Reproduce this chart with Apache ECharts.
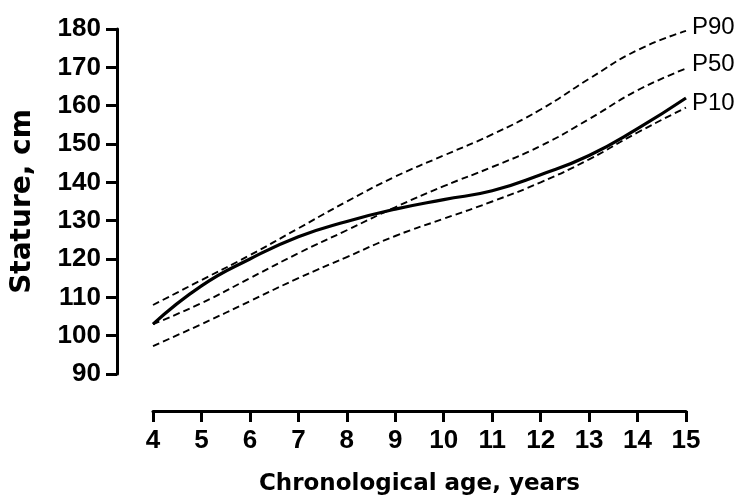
<!DOCTYPE html>
<html>
<head>
<meta charset="utf-8">
<script src="https://cdn.jsdelivr.net/npm/echarts@6/dist/echarts.min.js"></script>
<style>
  html, body { margin: 0; padding: 0; background: #fff; }
  #chart { width: 742px; height: 501px; }
</style>
</head>
<body>
<div id="chart"></div>
<script>
// ========== 数据 ==========
const ages = [4, 5, 6, 7, 8, 9, 10, 11, 12, 13, 14, 15];
const p90 = [108, 114.5, 121, 128, 135, 141.5, 147, 152.5, 159, 167, 174.5, 179.5];
const p50 = [103, 108.5, 115, 121.5, 127.5, 133.5, 139, 144, 149.5, 156.5, 164, 169.7];
const p10 = [97.3, 103, 109, 115, 120.5, 126, 130.5, 135, 140, 146, 153, 159.5];
const stature = [103, 113, 120, 125.8, 129.8, 133, 135.5, 137.8, 142, 147, 154, 162];

const FONT = "'Liberation Sans', Arial, sans-serif";
const TITLE_FONT = "'DejaVu Sans', 'Liberation Sans', sans-serif";

function pairs(values) {
    return ages.map((a, i) => [a, values[i]]);
}

function percentileSeries(name, values) {
    return {
        name: name,
        type: 'line',
        data: pairs(values),
        smooth: true,
        symbol: 'none',
        lineStyle: { color: '#000', width: 1.9, type: [7, 4] },
        endLabel: {
            show: true,
            formatter: '{a}',
            color: '#000',
            fontFamily: FONT,
            fontSize: 24,
            distance: 6,
            offset: [0, -4]
        },
        z: 2
    };
}

// ========== 图表 ==========
const myChart = echarts.init(document.getElementById('chart'));

const option = {
    backgroundColor: '#fff',
    animation: false,
    grid: { left: 153, right: 56, top: 29, bottom: 125 },
    xAxis: {
        type: 'value',
        min: 4, max: 15, interval: 1,
        offset: 37,
        name: 'Chronological age, years',
        nameLocation: 'middle',
        nameGap: 62,
        nameTextStyle: { color: '#000', fontFamily: TITLE_FONT, fontWeight: 'bold', fontSize: 23 },
        axisLine: { lineStyle: { color: '#000', width: 3 } },
        axisTick: { length: 11, lineStyle: { color: '#000', width: 3 } },
        axisLabel: { color: '#000', fontFamily: FONT, fontWeight: 'bold', fontSize: 26, margin: 17 },
        splitLine: { show: false }
    },
    yAxis: {
        type: 'value',
        min: 90, max: 180, interval: 10,
        offset: 36,
        name: 'Stature, cm',
        nameLocation: 'middle',
        nameGap: 80,
        nameTextStyle: { color: '#000', fontFamily: TITLE_FONT, fontWeight: 'bold', fontSize: 28 },
        axisLine: { show: true, lineStyle: { color: '#000', width: 3 } },
        axisTick: { show: true, length: 11, lineStyle: { color: '#000', width: 3 } },
        axisLabel: { color: '#000', fontFamily: FONT, fontWeight: 'bold', fontSize: 26, margin: 16 },
        splitLine: { show: false }
    },
    series: [
        percentileSeries('P90', p90),
        percentileSeries('P50', p50),
        percentileSeries('P10', p10),
        {
            name: 'Stature',
            type: 'line',
            data: pairs(stature),
            smooth: true,
            symbol: 'none',
            lineStyle: { color: '#000', width: 3.2 },
            z: 3
        }
    ]
};

myChart.setOption(option);
</script>
</body>
</html>
